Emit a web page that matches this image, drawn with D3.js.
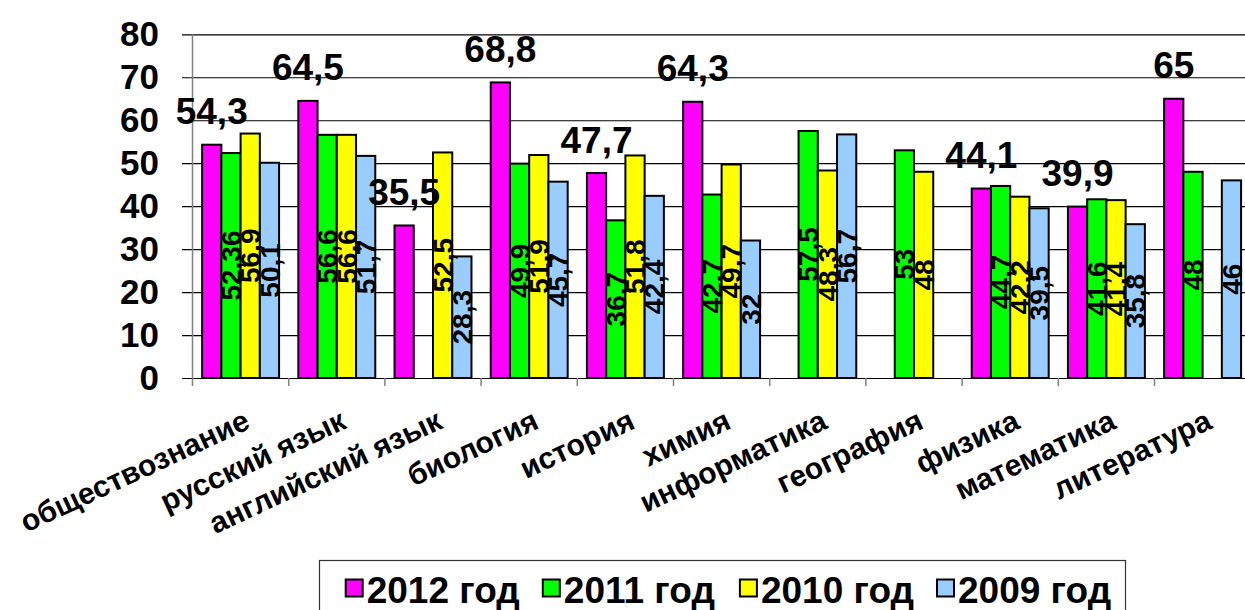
<!DOCTYPE html>
<html>
<head>
<meta charset="utf-8">
<script src="https://cdn.jsdelivr.net/npm/d3@7"></script>
<style>
  body { margin: 0; background: #fff; }
  text { font-family: "Liberation Sans", Arial, sans-serif; font-weight: bold; }
</style>
</head>
<body>
<svg id="chart" width="1245" height="610"></svg>
<script>
// subjects
const categories = ["обществознание", "русский язык", "английский язык", "биология", "история",
  "химия", "информатика", "география", "физика", "математика", "литература"];
// series values (null = no bar)
const s2012 = [54.3, 64.5, 35.5, 68.8, 47.7, 64.3, null, null, 44.1, 39.9, 65];
const s2011 = [52.36, 56.6, null, 49.9, 36.7, 42.7, 57.5, 53, 44.7, 41.6, 48];
const s2010 = [56.9, 56.6, 52.5, 51.9, 51.8, 49.7, 48.3, 48, 42.2, 41.4, null];
const s2009 = [50.1, 51.7, 28.3, 45.7, 42.4, 32, 56.7, null, 39.5, 35.8, 46];
const seriesNames = ["2012 год", "2011 год", "2010 год", "2009 год"];
const seriesColors = ["#ff00ff", "#00ff00", "#ffff00", "#99ccff"];
const yTicks = [0, 10, 20, 30, 40, 50, 60, 70, 80];

const allSeries = [s2012, s2011, s2010, s2009];
const fmt = (v) => String(v).replace(".", ",");

const svg = d3.select("#chart");

const x = d3.scaleBand().domain(categories).range([192.5, 1250.7]).padding(0);
const xs = d3.scaleBand().domain(seriesNames).range([0, x.bandwidth()])
  .paddingInner(0).paddingOuter(0.5);
const y = d3.scaleLinear().domain([0, 80]).range([378, 34.3]);

// gridlines + y labels
const yAxis = svg.append("g")
  .attr("transform", "translate(182,0)")
  .call(d3.axisLeft(y).tickValues(yTicks).tickSize(-(1250 - 182)).tickPadding(23));
yAxis.select(".domain").remove();
yAxis.selectAll(".tick line").attr("stroke", "#000").attr("stroke-width", 1.2);
yAxis.selectAll(".tick text").attr("font-size", 35).attr("fill", "#000")
  .attr("font-family", "Liberation Sans, Arial, sans-serif").attr("font-weight", "bold");

// y axis line
svg.append("line")
  .attr("x1", 192.5).attr("x2", 192.5).attr("y1", y(80)).attr("y2", y(0))
  .attr("stroke", "#808080").attr("stroke-width", 1.5);

// category tick marks
const bounds = categories.map((c) => x(c)).concat([x(categories[categories.length - 1]) + x.bandwidth()]);
svg.append("g").selectAll("line").data(bounds).join("line")
  .attr("x1", (d) => d).attr("x2", (d) => d)
  .attr("y1", y(0)).attr("y2", y(0) + 8)
  .attr("stroke", "#808080").attr("stroke-width", 1.5);

// bars
const bars = [];
allSeries.forEach((s, si) => {
  s.forEach((v, ci) => {
    if (v !== null) bars.push({ si: si, cat: categories[ci], v: v });
  });
});

svg.append("g").selectAll("rect").data(bars).join("rect")
  .attr("x", (d) => x(d.cat) + xs(seriesNames[d.si]))
  .attr("width", xs.bandwidth())
  .attr("y", (d) => y(d.v))
  .attr("height", (d) => y(0) - y(d.v))
  .attr("fill", (d) => seriesColors[d.si])
  .attr("stroke", "#000")
  .attr("stroke-width", 2);

// labels above the 2012 bars
svg.append("g").selectAll("text").data(bars.filter((d) => d.si === 0)).join("text")
  .attr("x", (d) => x(d.cat) + xs(seriesNames[0]) + xs.bandwidth() / 2)
  .attr("y", (d) => y(d.v) - 20.5)
  .attr("text-anchor", "middle")
  .attr("font-size", 37)
  .text((d) => fmt(d.v));

// rotated labels inside the other bars
svg.append("g").selectAll("text").data(bars.filter((d) => d.si > 0)).join("text")
  .attr("transform", (d) => {
    const cx = x(d.cat) + xs(seriesNames[d.si]) + xs.bandwidth() / 2;
    const cy = y(d.v / 2);
    return `translate(${cx},${cy}) rotate(-90)`;
  })
  .attr("text-anchor", "middle")
  .attr("dy", "0.36em")
  .attr("font-size", 28)
  .text((d) => fmt(d.v));

// category labels
svg.append("g").selectAll("text").data(categories).join("text")
  .attr("transform", (d) => `translate(${x(d) + x.bandwidth() / 2 + 2},408) rotate(-25)`)
  .attr("text-anchor", "end")
  .attr("dy", "0.72em")
  .attr("font-size", 30)
  .text((d) => d);

// legend
const legend = svg.append("g");
legend.append("rect")
  .attr("x", 319.5).attr("y", 560.5).attr("width", 806).attr("height", 80)
  .attr("fill", "#fff").attr("stroke", "#333").attr("stroke-width", 1.2);
const lx = d3.scalePoint().domain(seriesNames).range([345.7, 937]);
const items = legend.selectAll("g").data(seriesNames).join("g")
  .attr("transform", (d) => `translate(${lx(d)},0)`);
items.append("rect")
  .attr("x", 0).attr("y", 579.5).attr("width", 17).attr("height", 17)
  .attr("fill", (d, i) => seriesColors[i]).attr("stroke", "#000").attr("stroke-width", 2);
items.append("text")
  .attr("x", 21).attr("y", 602.5)
  .attr("font-size", 37)
  .text((d) => d);
</script>
</body>
</html>
